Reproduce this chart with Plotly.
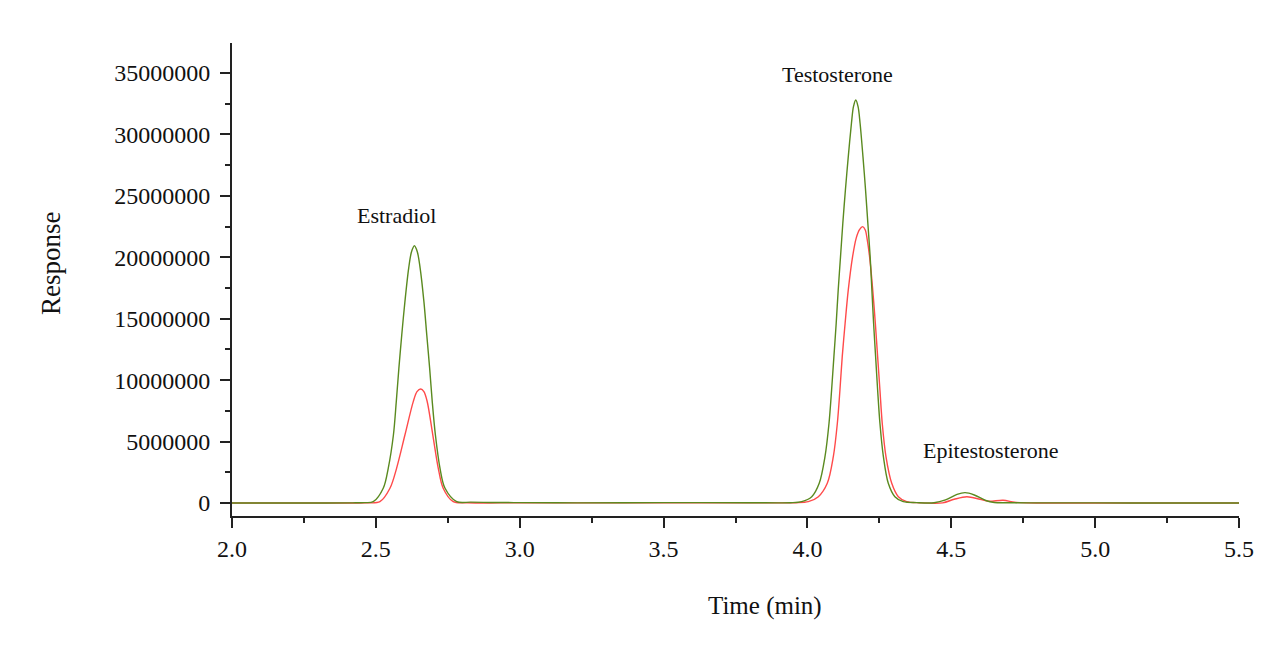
import plotly.graph_objects as go

# ---- data ----
green_time = [2.00, 2.30, 2.42, 2.46, 2.491, 2.526, 2.543, 2.561, 2.571, 2.580, 2.590, 2.601, 2.614,
              2.624, 2.634, 2.644, 2.654, 2.667, 2.677, 2.687, 2.696, 2.707, 2.723, 2.740, 2.781, 2.83,
              2.90, 3.00, 3.20, 3.50, 3.80, 3.94, 3.980, 4.015, 4.041, 4.061, 4.075, 4.084, 4.092, 4.100,
              4.107, 4.115, 4.123, 4.132, 4.142, 4.153, 4.160, 4.168, 4.176, 4.183, 4.193, 4.202, 4.210,
              4.218, 4.224, 4.230, 4.237, 4.244, 4.252, 4.264, 4.281, 4.304, 4.333, 4.38, 4.44, 4.48,
              4.52, 4.548, 4.58, 4.62, 4.65, 4.70, 4.80, 5.00, 5.20, 5.50]
green_resp = [0, 0, 0.01e6, 0.03e6, 0.106e6, 1.22e6, 2.82e6, 5.53e6, 8.25e6, 10.96e6, 13.67e6, 16.39e6, 19.10e6,
              20.45e6, 20.94e6, 20.45e6, 19.10e6, 16.39e6, 13.67e6, 10.96e6, 8.25e6, 5.53e6, 2.82e6, 1.22e6, 0.106e6, 0.07e6,
              0.04e6, 0.03e6, 0.01e6, 0.03e6, 0.02e6, 0.02e6, 0.106e6, 0.51e6, 1.60e6, 3.77e6, 6.49e6, 9.20e6, 11.91e6, 14.63e6,
              17.34e6, 20.05e6, 22.77e6, 25.48e6, 28.19e6, 30.91e6, 32.26e6, 32.80e6, 32.26e6, 30.91e6, 28.19e6, 25.48e6, 22.77e6,
              20.05e6, 17.34e6, 14.63e6, 11.91e6, 9.20e6, 6.49e6, 3.77e6, 1.60e6, 0.51e6, 0.106e6, 0.03e6, 0.02e6, 0.25e6,
              0.70e6, 0.84e6, 0.65e6, 0.20e6, 0.04e6, 0.02e6, 0.01e6, 0.01e6, 0, 0]

red_time = [2.00, 2.40, 2.47, 2.514, 2.549, 2.572, 2.601, 2.630, 2.643, 2.656, 2.667, 2.678, 2.698, 2.717,
            2.734, 2.769, 2.82, 3.00, 3.50, 3.90, 3.96, 4.003, 4.038, 4.069, 4.090, 4.104, 4.113, 4.121,
            4.131, 4.142, 4.157, 4.170, 4.181, 4.192, 4.201, 4.208, 4.216, 4.227, 4.236, 4.244, 4.252,
            4.260, 4.273, 4.293, 4.316, 4.345, 4.39, 4.47, 4.51, 4.554, 4.60, 4.63, 4.68, 4.72, 4.76,
            5.00, 5.50]
red_resp = [0, 0, 0.01e6, 0.106e6, 1.20e6, 2.82e6, 5.53e6, 8.25e6, 9.06e6, 9.28e6, 9.06e6, 8.30e6, 5.53e6, 2.82e6,
            1.20e6, 0.106e6, 0.02e6, 0.01e6, 0.01e6, 0.01e6, 0.02e6, 0.106e6, 0.51e6, 1.60e6, 3.77e6, 6.49e6, 9.20e6, 11.91e6,
            14.63e6, 17.34e6, 20.05e6, 21.60e6, 22.25e6, 22.49e6, 22.22e6, 21.41e6, 20.05e6, 17.34e6, 14.63e6, 11.91e6, 9.20e6,
            6.49e6, 3.77e6, 1.60e6, 0.51e6, 0.106e6, 0.02e6, 0.01e6, 0.30e6, 0.51e6, 0.30e6, 0.14e6, 0.22e6, 0.06e6, 0.01e6,
            0, 0]

peak_names = ["Estradiol", "Testosterone", "Epitestosterone"]
peak_label_time = [2.573, 4.106, 4.638]
peak_label_resp = [23.4e6, 34.85e6, 4.25e6]

x_ticks = [2.0, 2.5, 3.0, 3.5, 4.0, 4.5, 5.0, 5.5]
y_ticks = [0, 5000000, 10000000, 15000000, 20000000, 25000000, 30000000, 35000000]

FONT = "Liberation Serif, Times New Roman, serif"
INK = "#111111"

fig = go.Figure()
fig.add_trace(go.Scatter(x=red_time, y=red_resp, mode="lines",
                         line=dict(color="#ff4a4a", width=1.4, shape="spline", smoothing=0.9),
                         showlegend=False, hoverinfo="skip"))
fig.add_trace(go.Scatter(x=green_time, y=green_resp, mode="lines",
                         line=dict(color="#5a8a1f", width=1.4, shape="spline", smoothing=0.9),
                         showlegend=False, hoverinfo="skip"))

for name, t, r in zip(peak_names, peak_label_time, peak_label_resp):
    fig.add_annotation(x=t, y=r, text=name, showarrow=False,
                       font=dict(family=FONT, size=22, color=INK))

# axis titles as annotations (positioned like the reference)
fig.add_annotation(xref="paper", yref="paper", x=-0.1797, y=0.535, text="Response",
                   textangle=-90, showarrow=False, xanchor="center", yanchor="middle",
                   font=dict(family=FONT, size=27, color=INK))
fig.add_annotation(xref="paper", yref="paper", x=0.529, y=-0.190, text="Time (min)",
                   showarrow=False, xanchor="center", yanchor="middle",
                   font=dict(family=FONT, size=25, color=INK))

fig.update_layout(
    width=1279, height=649,
    margin=dict(l=224, r=48, t=35, b=141),
    paper_bgcolor="white", plot_bgcolor="white",
    font=dict(family=FONT, size=22, color=INK),
    xaxis=dict(range=[2.0, 5.5], tickvals=x_ticks, ticktext=[f"{v:.1f}" for v in x_ticks],
               showgrid=False, zeroline=False, showline=True, linecolor="#222", linewidth=2,
               ticks="outside", ticklen=10, tickwidth=2, tickcolor="#222",
               minor=dict(dtick=0.25, tick0=2.0, ticks="outside", ticklen=5, tickwidth=2, tickcolor="#222"),
               tickfont=dict(family=FONT, size=24, color=INK)),
    yaxis=dict(range=[-1.06e6, 37.44e6], tickvals=y_ticks, ticktext=[str(v) for v in y_ticks],
               showgrid=False, zeroline=False, showline=True, linecolor="#222", linewidth=2,
               ticks="outside", ticklen=10, tickwidth=2, tickcolor="#222", ticklabelstandoff=5,
               minor=dict(dtick=2500000, tick0=0, ticks="outside", ticklen=5, tickwidth=2, tickcolor="#222"),
               tickfont=dict(family=FONT, size=24, color=INK)),
)

fig.write_html("out.html")
